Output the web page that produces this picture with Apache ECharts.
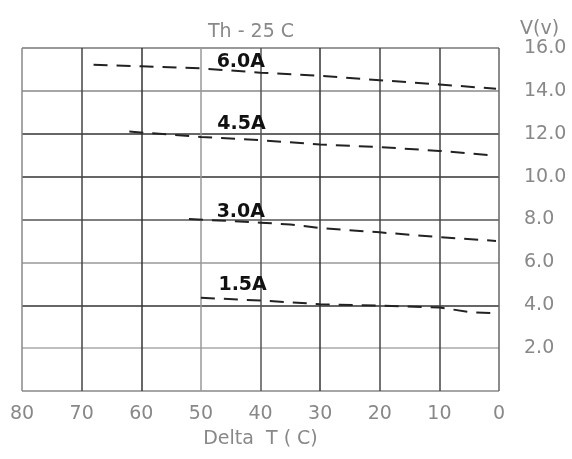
<!DOCTYPE html>
<html><head><meta charset="utf-8">
<script src="https://cdn.jsdelivr.net/npm/echarts@6/dist/echarts.min.js"></script>
<style>html,body{margin:0;padding:0;background:#fff}#c{width:572px;height:459px}</style>
</head><body><div id="c"></div>
<script>
// Data (Delta T in C, voltage in V)
const dt60 = [68, 60, 50, 40, 30, 20, 10, 0.5];
const v60  = [15.22, 15.15, 15.05, 14.85, 14.7, 14.5, 14.3, 14.1];
const dt45 = [62, 50, 40, 30, 20, 10, 0.5];
const v45  = [12.1, 11.85, 11.7, 11.5, 11.38, 11.2, 10.98];
const dt30 = [52, 45, 40, 35, 30, 20, 10, 0.5];
const v30  = [8.02, 7.93, 7.85, 7.77, 7.6, 7.4, 7.18, 7.0];
const dt15 = [50, 40, 30, 20, 10, 5, 0.5];
const v15  = [4.35, 4.22, 4.05, 3.98, 3.9, 3.68, 3.62];
const seriesNames = ['6.0A', '4.5A', '3.0A', '1.5A'];
const labelDT = [43.3, 43.2, 43.3, 43.0];
const labelV  = [15.35, 12.44, 8.37, 4.93];
const xTicks = [0, 10, 20, 30, 40, 50, 60, 70, 80];
const yTicks = [0, 2, 4, 6, 8, 10, 12, 14, 16];

const zip = (a, b) => a.map((x, i) => [x, b[i]]);
const sets = [[dt60, v60], [dt45, v45], [dt30, v30], [dt15, v15]];
const chart = echarts.init(document.getElementById('c'));
const font = 'DejaVu Sans, Liberation Sans, sans-serif';
chart.setOption({
  animation: false,
  backgroundColor: '#fff',
  title: { text: 'Th - 25 C', left: 246, top: 18, textAlign: 'center',
    textStyle: { color: '#888', fontSize: 19, fontWeight: 'normal', fontFamily: font } },
  grid: { left: 22, right: 73, top: 48, bottom: 68 },
  xAxis: {
    type: 'value', min: 0, max: 80, interval: 10, inverse: true,
    name: 'Delta  T ( C)', nameLocation: 'middle', nameGap: 39,
    nameTextStyle: { color: '#888', fontSize: 19, fontFamily: font },
    axisLine: { show: false }, axisTick: { show: false },
    axisLabel: { color: '#888', fontSize: 19, margin: 14, fontFamily: font,
      formatter: v => xTicks.includes(v) ? String(v) : '' },
    splitLine: { show: true, lineStyle: { width: 1.5,
      color: ['#666', '#444', '#444', '#333', '#555', '#999', '#333', '#444', '#888'] } }
  },
  yAxis: {
    type: 'value', min: 0, max: 16, interval: 2, position: 'right',
    name: 'V(v)', nameGap: 8,
    nameTextStyle: { color: '#888', fontSize: 19, fontFamily: font, align: 'left', padding: [0, 0, 0, 21] },
    axisLine: { show: false }, axisTick: { show: false },
    axisLabel: { color: '#888', fontSize: 19, margin: 25, fontFamily: font,
      formatter: v => (v === 0 || !yTicks.includes(v)) ? '' : v.toFixed(1) },
    splitLine: { show: true, lineStyle: { width: 1.5,
      color: ['#888', '#aaa', '#333', '#999', '#555', '#333', '#333', '#888', '#777'] } }
  },
  series: sets.map((s, i) => ({
    name: seriesNames[i], type: 'line', data: zip(s[0], s[1]),
    symbol: 'none', smooth: false,
    lineStyle: { color: '#222', width: 2, type: [14, 9] },
    markPoint: {
      symbol: 'rect', symbolSize: 1, itemStyle: { color: 'transparent' },
      label: { show: true, formatter: seriesNames[i], color: '#111', fontSize: 19,
        fontWeight: 'bold', fontFamily: font, position: 'inside' },
      data: [{ coord: [labelDT[i], labelV[i]] }]
    }
  }))
});
</script></body></html>
